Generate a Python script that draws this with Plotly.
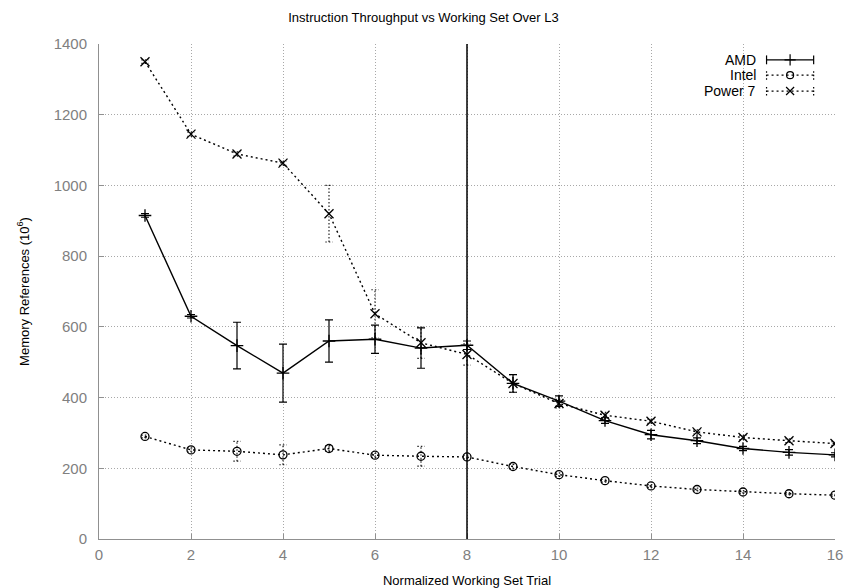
import plotly.graph_objects as go

trials = list(range(1, 17))

amd = [915, 630, 547, 469, 560, 565, 540, 548, 440, 390, 335, 295, 278, 256, 245, 238]
amd_err = [5, 5, 66, 82, 60, 40, 57, 12, 25, 15, 8, 12, 8, 6, 8, 6]

intel = [290, 252, 248, 238, 256, 237, 234, 232, 205, 182, 165, 150, 140, 133, 128, 124]
intel_err = [4, 6, 28, 28, 8, 6, 28, 5, 6, 5, 4, 4, 4, 4, 3, 3]

power7 = [1350, 1145, 1089, 1063, 920, 637, 555, 522, 440, 383, 350, 333, 303, 287, 278, 270]
power7_err = [5, 6, 6, 6, 80, 68, 44, 30, 25, 12, 8, 6, 6, 6, 5, 5]

series_names = ["AMD", "Intel", "Power 7"]
x_ticks = [0, 2, 4, 6, 8, 10, 12, 14, 16]
y_ticks = [0, 200, 400, 600, 800, 1000, 1200, 1400]
marker_line = 8

FONT = "Liberation Sans, Arial, sans-serif"
DOT = "2px,3px"

fig = go.Figure()

styles = [
    (amd, amd_err, "solid", "cross-thin", 9),
    (intel, intel_err, DOT, "circle-open", 8),
    (power7, power7_err, DOT, "x-thin", 9),
]

CAP = 0.08  # half cap width in x data units
for name, (vals, errs, dash, sym, size) in zip(series_names, styles):
    if dash != "solid":
        # dotted error bars drawn as line segments around each point
        ex, ey = [], []
        for xv, v, e in zip(trials, vals, errs):
            lo, hi = v - e, v + e
            ex += [xv, xv, None, xv - CAP, xv + CAP, None, xv - CAP, xv + CAP, None]
            ey += [lo, hi, None, lo, lo, None, hi, hi, None]
        fig.add_trace(go.Scatter(
            x=ex, y=ey, mode="lines", hoverinfo="skip", showlegend=False,
            line=dict(color="rgba(0,0,0,0.85)", width=1.2, dash="1.5px,2px")))
    fig.add_trace(go.Scatter(
        x=trials, y=vals, name=name, mode="lines+markers",
        line=dict(color="black", width=1.4, dash=dash),
        marker=dict(symbol=sym, size=size, color="black",
                    line=dict(color="black", width=1.3)),
        error_y=dict(type="data", array=errs, visible=(dash == "solid"),
                     color="black", thickness=1.2, width=4),
        showlegend=False,
    ))

# vertical line at L3 boundary
fig.add_vline(x=marker_line, line=dict(color="black", width=1.5))

# gnuplot-style legend (text left, sample right)
leg_y = [0.968, 0.937, 0.905]
for i, (name, (vals, errs, dash, sym, size)) in enumerate(zip(series_names, styles)):
    y = leg_y[i]
    fig.add_annotation(x=0.895, y=y, xref="paper", yref="paper", text=name,
                       showarrow=False, xanchor="right", yanchor="middle",
                       font=dict(family=FONT, size=14, color="black"))
    lw = 1.2
    fig.add_shape(type="line", xref="paper", yref="paper",
                  x0=0.907, x1=0.971, y0=y, y1=y,
                  line=dict(color="black", width=lw, dash=dash))
    for xe in (0.907, 0.971):
        fig.add_shape(type="line", xref="paper", yref="paper",
                      x0=xe, x1=xe, y0=y - 0.009, y1=y + 0.009,
                      line=dict(color="black", width=lw,
                                dash="solid" if dash == "solid" else "1.5px,2px"))
    fig.add_trace(go.Scatter(
        x=[0.939], y=[y], xaxis="x2", yaxis="y2", mode="markers",
        marker=dict(symbol=sym, size=size - 1, color="black",
                    line=dict(color="black", width=1.2)),
        showlegend=False, hoverinfo="skip"))

axis_common = dict(
    showgrid=True, gridcolor="#a8a8a8", griddash="1px,2px", gridwidth=1,
    showline=True, linecolor="#909090", linewidth=1,
    ticks="inside", ticklen=5, tickcolor="#909090",
    zeroline=False, mirror=False, automargin=False,
    tickfont=dict(family=FONT, size=15, color="#808080"),
)

fig.update_layout(
    width=847, height=588,
    margin=dict(l=99, r=12, t=44, b=49),
    paper_bgcolor="white", plot_bgcolor="white",
    title=dict(text="Instruction Throughput vs Working Set Over L3",
               x=0.5, xanchor="center", y=1 - 17 / 588, yanchor="middle",
               font=dict(family=FONT, size=13, color="black")),
    font=dict(family=FONT, size=13, color="#808080"),
    xaxis=dict(range=[0, 16], tickvals=x_ticks, ticklabelstandoff=2,
               title=dict(text="Normalized Working Set Trial", standoff=13,
                          font=dict(family=FONT, size=13, color="black")),
               **axis_common),
    yaxis=dict(range=[0, 1400], tickvals=y_ticks, ticklabelstandoff=8,
               title=dict(text="Memory References (10<sup>6</sup>)", standoff=21,
                          font=dict(family=FONT, size=13, color="black")),
               **axis_common),
    xaxis2=dict(range=[0, 1], overlaying="x", visible=False),
    yaxis2=dict(range=[0, 1], overlaying="y", visible=False),
)

fig.write_html("out.html")
